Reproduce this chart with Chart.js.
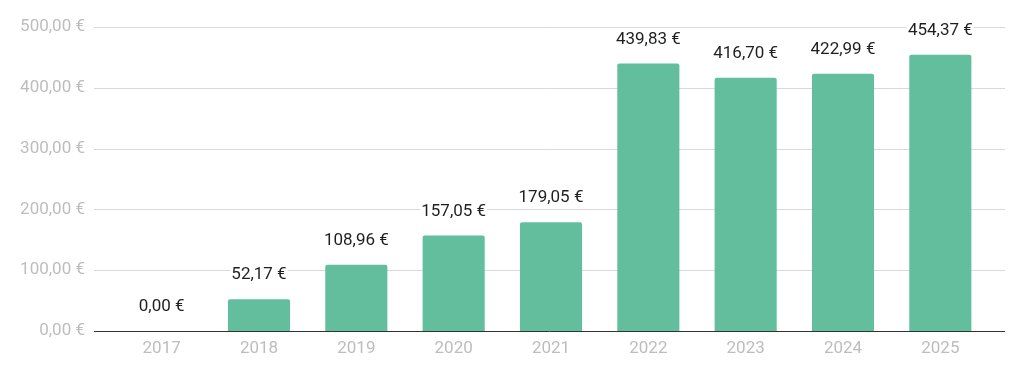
<!DOCTYPE html>
<html>
<head>
<meta charset="utf-8">
<script src="https://cdn.jsdelivr.net/npm/chart.js@4/dist/chart.umd.min.js"></script>
<style>
  html, body { margin: 0; padding: 0; background: #fff; }
  #wrap { width: 1024px; height: 376px; }
</style>
</head>
<body>
<div id="wrap"><canvas id="c" width="1024" height="376"></canvas></div>
<script>
const categories = ['2017', '2018', '2019', '2020', '2021', '2022', '2023', '2024', '2025'];
const values = [0.00, 52.17, 108.96, 157.05, 179.05, 439.83, 416.70, 422.99, 454.37];
const yTicks = [0, 100, 200, 300, 400, 500];

function fmt(v) { return v.toFixed(2).replace('.', ',') + ' €'; }

const GRID_LEFT = 94, GRID_RIGHT = 1005;

const gridPlugin = {
  id: 'extGrid',
  beforeDatasetsDraw(chart) {
    const ctx = chart.ctx, y = chart.scales.y;
    ctx.save();
    ctx.strokeStyle = '#d9d9d9';
    ctx.lineWidth = 1;
    yTicks.forEach(v => {
      if (v === 0) return;
      const py = Math.round(y.getPixelForValue(v)) + 0.5;
      ctx.beginPath(); ctx.moveTo(GRID_LEFT, py); ctx.lineTo(GRID_RIGHT, py); ctx.stroke();
    });
    ctx.restore();
  },
  afterDatasetsDraw(chart) {
    const ctx = chart.ctx, y = chart.scales.y;
    ctx.save();
    ctx.strokeStyle = '#333333';
    ctx.lineWidth = 1;
    const py = Math.round(y.getPixelForValue(0)) + 0.5;
    ctx.beginPath(); ctx.moveTo(GRID_LEFT, py); ctx.lineTo(GRID_RIGHT, py); ctx.stroke();

    const meta = chart.getDatasetMeta(0);
    ctx.font = '17px Roboto';
    ctx.textAlign = 'center';
    ctx.textBaseline = 'alphabetic';
    meta.data.forEach((bar, i) => {
      const t = fmt(values[i]);
      const w = ctx.measureText(t).width;
      const ty = bar.y - 20;
      ctx.fillStyle = '#ffffff';
      ctx.fillRect(bar.x - w / 2 - 1, ty - 15, w + 2, 20);
      ctx.fillStyle = '#1f1f1f';
      ctx.fillText(t, bar.x, ty);
    });
    ctx.restore();
  }
};

new Chart(document.getElementById('c'), {
  type: 'bar',
  data: {
    labels: categories,
    datasets: [{
      data: values,
      backgroundColor: '#63be9d',
      borderRadius: 2,
      borderSkipped: 'bottom',
      barPercentage: 0.72,
      categoryPercentage: 0.886
    }]
  },
  options: {
    responsive: false,
    animation: false,
    events: [],
    layout: { padding: { top: 27, right: 35, left: 0, bottom: 0 } },
    plugins: { legend: { display: false }, tooltip: { enabled: false } },
    scales: {
      x: {
        grid: { display: false, drawTicks: false },
        border: { display: false },
        ticks: { color: '#bdbdbd', font: { family: 'Roboto', size: 17 }, padding: 8 },
        afterFit(scale) { scale.height = 45; }
      },
      y: {
        min: 0, max: 500,
        afterBuildTicks(scale) { scale.ticks = yTicks.map(v => ({ value: v })); },
        grid: { display: false, drawTicks: false },
        border: { display: false },
        ticks: { color: '#bdbdbd', font: { family: 'Roboto', size: 17 }, padding: 28, callback: v => fmt(v) },
        afterFit(scale) { scale.width = 113; scale.paddingTop = 8; scale.paddingBottom = 8; }
      }
    }
  },
  plugins: [gridPlugin]
});
</script>
</body>
</html>
